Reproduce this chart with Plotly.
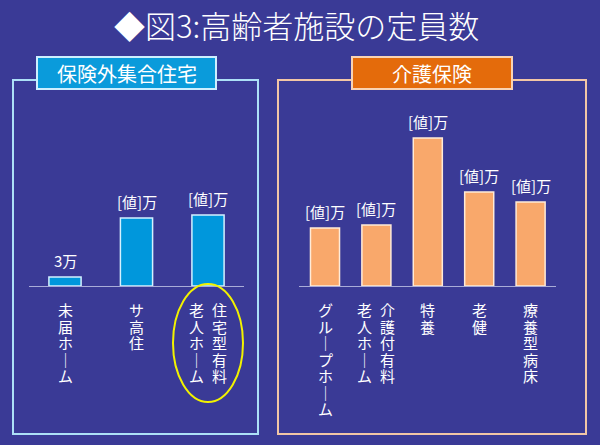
import plotly.graph_objects as go

# ---------------- data ----------------
title_text = "◆図3:高齢者施設の定員数"
left_header = "保険外集合住宅"
right_header = "介護保険"

left_names = ["未届ホーム", "サ高住", "住宅型有料老人ホーム"]
left_values = [3, 22.7, 23.7]
left_value_labels = ["3万", "[値]万", "[値]万"]
# vertical label columns (read right column first)
left_label_cols = [["未届ホーム"], ["サ高住"], ["住宅型有料", "老人ホーム"]]

right_names = ["グループホーム", "介護付有料老人ホーム", "特養", "老健", "療養型病床"]
right_values = [19.3, 20.3, 49.3, 31.3, 28.0]
right_value_labels = ["[値]万", "[値]万", "[値]万", "[値]万", "[値]万"]
right_label_cols = [["グループホーム"], ["介護付有料", "老人ホーム"], ["特養"], ["老健"], ["療養型病床"]]

# ---------------- styling ----------------
W, H = 600, 445
BG = "#3A3A96"
FONT = "Noto Sans CJK JP"
L_FILL, L_EDGE = "#0097DC", "#D4F1FF"
R_FILL, R_EDGE = "#F9A86B", "#FFEBD8"
L_BORDER, R_BORDER = "#ADE0F7", "#F2C6A6"
L_HEAD_FILL, L_HEAD_EDGE = "#0A9BDB", "#CDEFFF"
R_HEAD_FILL, R_HEAD_EDGE = "#E46B0B", "#F9D3B3"
BASE_COLOR = "#A9ACD8"


def px(x):
    return x / W


def py(y):
    return 1 - y / H


BASE_Y = 286
TOP_Y = 120
SCALE = 3.0  # px per unit
YMAX = (BASE_Y - TOP_Y) / SCALE

fig = go.Figure()
fig.add_trace(go.Bar(
    x=left_names, y=left_values, xaxis="x", yaxis="y", width=0.45,
    marker=dict(color=L_FILL, line=dict(color=L_EDGE, width=1.5)),
    hoverinfo="x+y", showlegend=False,
))
fig.add_trace(go.Bar(
    x=right_names, y=right_values, xaxis="x2", yaxis="y2", width=0.565,
    marker=dict(color=R_FILL, line=dict(color=R_EDGE, width=1.5)),
    hoverinfo="x+y", showlegend=False,
))

annotations = []
shapes = []

# title
annotations.append(dict(text=title_text, x=px(296.5), y=py(24), xref="paper", yref="paper",
                        showarrow=False, font=dict(family=FONT, size=31, color="white", weight=300),
                        xanchor="center", yanchor="middle"))

# panel borders
shapes.append(dict(type="rect", xref="paper", yref="paper", x0=px(13), x1=px(258), y0=py(434), y1=py(80),
                   line=dict(color=L_BORDER, width=2), fillcolor="rgba(0,0,0,0)", layer="below"))
shapes.append(dict(type="rect", xref="paper", yref="paper", x0=px(278), x1=px(586), y0=py(434), y1=py(80),
                   line=dict(color=R_BORDER, width=2), fillcolor="rgba(0,0,0,0)", layer="below"))
# header boxes
shapes.append(dict(type="rect", xref="paper", yref="paper", x0=px(37), x1=px(216), y0=py(89), y1=py(57),
                   line=dict(color=L_HEAD_EDGE, width=2), fillcolor=L_HEAD_FILL, layer="below"))
shapes.append(dict(type="rect", xref="paper", yref="paper", x0=px(352), x1=px(512), y0=py(89), y1=py(57),
                   line=dict(color=R_HEAD_EDGE, width=2), fillcolor=R_HEAD_FILL, layer="below"))
annotations.append(dict(text=left_header, x=px(126.5), y=py(73), xref="paper", yref="paper",
                        xanchor="center", yanchor="middle",
                        showarrow=False, font=dict(family=FONT, size=20, color="white")))
annotations.append(dict(text=right_header, x=px(432), y=py(73), xref="paper", yref="paper",
                        xanchor="center", yanchor="middle",
                        showarrow=False, font=dict(family=FONT, size=20, color="white")))

# yellow ellipse
shapes.append(dict(type="circle", xref="paper", yref="paper", x0=px(173), x1=px(243), y0=py(402), y1=py(284),
                   line=dict(color="#F2F200", width=2), fillcolor="rgba(0,0,0,0)", layer="above"))


def add_value_labels(names, values, labels, xr, yr):
    for n, v, t in zip(names, values, labels):
        annotations.append(dict(text=t, x=n, y=v, xref=xr, yref=yr, showarrow=False,
                                xanchor="center", yanchor="bottom", yshift=4,
                                font=dict(family=FONT, size=15, color="white")))


PITCH = 16.5
GLYPH = 15


def vertical_text(col):
    # one character per line; the long-vowel mark takes its vertical form
    chars = ["｜" if ch == "ー" else ch for ch in col]
    return "<br>".join(f"<span style='font-size:{GLYPH}px'>{ch}</span>" for ch in chars)


def add_vertical_labels(names, cols_list, xr):
    top_y = 307 - PITCH / 2 - 1
    for n, cols in zip(names, cols_list):
        ncol = len(cols)
        for ci, col in enumerate(cols):
            shift = 0 if ncol == 1 else (11.5 if ci == 0 else -11.5)
            annotations.append(dict(
                text=vertical_text(col), x=n, xref=xr, y=py(top_y), yref="paper",
                xshift=shift, showarrow=False, xanchor="center", yanchor="top",
                align="center", borderpad=0,
                font=dict(family=FONT, size=PITCH / 1.3, color="white")))


add_value_labels(left_names, left_values, left_value_labels, "x", "y")
add_value_labels(right_names, right_values, right_value_labels, "x2", "y2")
add_vertical_labels(left_names, left_label_cols, "x")
add_vertical_labels(right_names, right_label_cols, "x2")

axis_common = dict(showgrid=False, zeroline=False, showticklabels=False, ticks="",
                   showline=True, linecolor=BASE_COLOR, linewidth=1, fixedrange=True)
yaxis_common = dict(visible=False, range=[0, YMAX], fixedrange=True,
                    domain=[py(BASE_Y), py(TOP_Y)])

fig.update_layout(
    width=W, height=H, autosize=False,
    margin=dict(l=0, r=0, t=0, b=0, pad=0),
    paper_bgcolor=BG, plot_bgcolor=BG,
    font=dict(family=FONT, color="white"),
    xaxis=dict(domain=[px(29.25), px(243.75)], range=[-0.5, 2.5], anchor="y", **axis_common),
    yaxis=dict(anchor="x", **yaxis_common),
    xaxis2=dict(domain=[px(299.3), px(556.3)], range=[-0.5, 4.5], anchor="y2", **axis_common),
    yaxis2=dict(anchor="x2", **yaxis_common),
    annotations=annotations,
    shapes=shapes,
    bargap=0.5,
    showlegend=False,
)

fig.write_html("out.html")
